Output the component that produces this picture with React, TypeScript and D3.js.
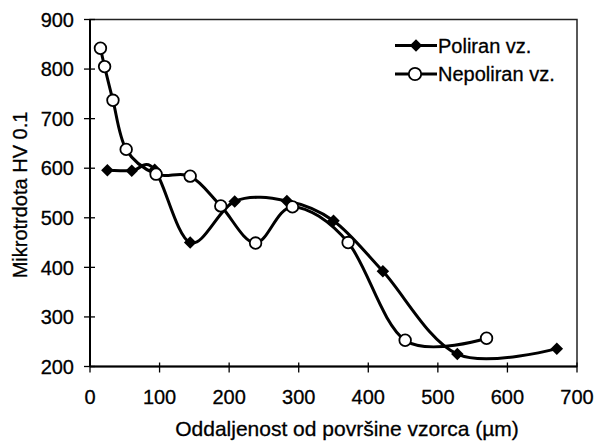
import React, { useEffect, useRef } from "react";
import * as d3 from "d3";

// Poliran vz. (filled diamonds)
const polX = [25, 60, 93, 144, 208, 283, 350, 421, 528, 671];
const polY = [596, 595, 597, 450, 533, 534, 494, 392, 225, 236];

// Nepoliran vz. (open circles)
const nepX = [15, 21, 33, 52, 95, 144, 188, 238, 291, 371, 453, 570];
const nepY = [842, 805, 737, 638, 588, 584, 524, 449, 522, 450, 253, 257];

const xTicks = [0, 100, 200, 300, 400, 500, 600, 700];
const yTicks = [200, 300, 400, 500, 600, 700, 800, 900];

const seriesNames = ["Poliran vz.", "Nepoliran vz."];

const App = () => {
  const svgRef = useRef<SVGSVGElement>(null);

  useEffect(() => {
    const width = 597;
    const height = 441;
    const margin = { top: 19.5, right: 20, bottom: 74.5, left: 90 };
    const font = "Liberation Sans, Arial, sans-serif";

    const svg = d3.select(svgRef.current);
    svg.selectAll("*").remove();
    svg.attr("width", width).attr("height", height).style("font-family", font);

    svg.append("rect").attr("width", width).attr("height", height).attr("fill", "#fff");

    const x = d3.scaleLinear().domain([0, 700]).range([margin.left, width - margin.right]);
    const y = d3.scaleLinear().domain([200, 900]).range([height - margin.bottom, margin.top]);

    // frame
    svg.append("rect")
      .attr("x", x(0)).attr("y", y(900))
      .attr("width", x(700) - x(0)).attr("height", y(200) - y(900))
      .attr("fill", "none").attr("stroke", "#222").attr("stroke-width", 1.5);

    // x axis
    const gx = svg.append("g").attr("transform", `translate(0,${y(200)})`);
    gx.append("line").attr("x1", x(0)).attr("x2", x(700)).attr("stroke", "#000").attr("stroke-width", 2);
    gx.selectAll("line.t").data(xTicks).enter().append("line")
      .attr("class", "t")
      .attr("x1", d => x(d)).attr("x2", d => x(d))
      .attr("y1", -4).attr("y2", 6)
      .attr("stroke", "#000").attr("stroke-width", 1.3);
    gx.selectAll("text").data(xTicks).enter().append("text")
      .attr("x", d => x(d)).attr("y", 37)
      .attr("text-anchor", "middle")
      .attr("font-size", 20)
      .attr("stroke", "#000").attr("stroke-width", 0.3)
      .text(d => d);

    // y axis
    const gy = svg.append("g").attr("transform", `translate(${x(0)},0)`);
    gy.append("line").attr("y1", y(200)).attr("y2", y(900)).attr("stroke", "#000").attr("stroke-width", 2);
    gy.selectAll("line.t").data(yTicks).enter().append("line")
      .attr("class", "t")
      .attr("y1", d => y(d)).attr("y2", d => y(d))
      .attr("x1", -6).attr("x2", 5)
      .attr("stroke", "#000").attr("stroke-width", 1.3);
    gy.selectAll("text").data(yTicks).enter().append("text")
      .attr("x", -16).attr("y", d => y(d))
      .attr("dy", "0.36em")
      .attr("text-anchor", "end")
      .attr("font-size", 20)
      .attr("stroke", "#000").attr("stroke-width", 0.3)
      .text(d => d);

    // axis titles
    svg.append("text")
      .attr("x", 347).attr("y", 436)
      .attr("text-anchor", "middle")
      .attr("font-size", 21)
      .attr("stroke", "#000").attr("stroke-width", 0.3)
      .text("Oddaljenost od površine vzorca (µm)");
    svg.append("text")
      .attr("transform", `translate(27,195) rotate(-90)`)
      .attr("text-anchor", "middle")
      .attr("font-size", 20)
      .attr("stroke", "#000").attr("stroke-width", 0.3)
      .text("Mikrotrdota HV 0.1");

    const line = d3.line<[number, number]>()
      .x(d => x(d[0]))
      .y(d => y(d[1]))
      .curve(d3.curveCardinal.tension(0));

    const pol: [number, number][] = polX.map((v, i) => [v, polY[i]]);
    const nep: [number, number][] = nepX.map((v, i) => [v, nepY[i]]);

    const plot = svg.append("g");
    [pol, nep].forEach(s => {
      plot.append("path")
        .attr("d", line(s))
        .attr("fill", "none")
        .attr("stroke", "#000")
        .attr("stroke-width", 3);
    });

    const diamond = d3.symbol().type(d3.symbolDiamond2).size(100);

    plot.selectAll("path.dm").data(pol).enter().append("path")
      .attr("class", "dm")
      .attr("transform", d => `translate(${x(d[0])},${y(d[1])})`)
      .attr("d", diamond())
      .attr("fill", "#000");

    plot.selectAll("circle").data(nep).enter().append("circle")
      .attr("cx", d => x(d[0])).attr("cy", d => y(d[1]))
      .attr("r", 5.8)
      .attr("fill", "#fff")
      .attr("stroke", "#000")
      .attr("stroke-width", 1.8);

    // legend
    const lg = svg.append("g");
    seriesNames.forEach((name, i) => {
      const ly = 45.5 + i * 28.5;
      lg.append("line")
        .attr("x1", 395).attr("x2", 437).attr("y1", ly).attr("y2", ly)
        .attr("stroke", "#000").attr("stroke-width", 3);
      if (i === 0) {
        lg.append("path")
          .attr("transform", `translate(416,${ly})`)
          .attr("d", diamond())
          .attr("fill", "#000");
      } else {
        lg.append("circle")
          .attr("cx", 415).attr("cy", ly).attr("r", 6.2)
          .attr("fill", "#fff").attr("stroke", "#000").attr("stroke-width", 1.8);
      }
      lg.append("text")
        .attr("x", 438).attr("y", ly).attr("dy", "0.36em")
        .attr("font-size", 20)
        .attr("stroke", "#000").attr("stroke-width", 0.3)
        .text(name);
    });
  }, []);

  return (
    <svg ref={svgRef} style={{ position: "absolute", left: 0, top: 0 }} width="597" height="441"></svg>
  );
};

export default App;
